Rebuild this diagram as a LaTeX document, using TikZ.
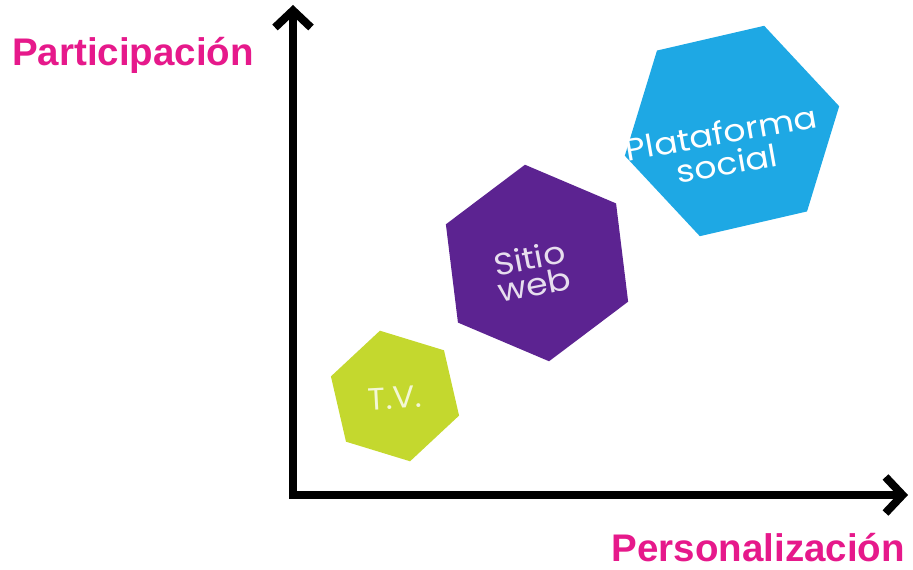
\documentclass[tikz,border=0pt]{standalone}
\usepackage{fontspec}
\setmainfont{Liberation Sans}
\newfontfamily\hexfont{Poppins}
\usetikzlibrary{arrows.meta}
\definecolor{magentalbl}{HTML}{E6198B}
\definecolor{limehex}{HTML}{C4D82E}
\definecolor{purplehex}{HTML}{5C2391}
\definecolor{bluehex}{HTML}{1EA8E4}
\begin{document}
\begin{tikzpicture}[x=1pt,y=1pt,
  axis/.style={line width=8pt, line join=miter,
    {Straight Barb[length=17pt,width=36pt]}-{Straight Barb[length=17pt,width=36pt]}},
  axislabel/.style={text=magentalbl, font=\fontsize{38.5}{40}\selectfont\bfseries, inner sep=0pt},
  hextext/.style={font=\hexfont\fontsize{31}{26}\selectfont, align=center, inner sep=0pt}]
\useasboundingbox (0,0) rectangle (913,570);
% axes
\coordinate (O) at (293,75);
\coordinate (Y) at (293,565);
\coordinate (X) at (908,75);
\draw[axis] (Y) -- (O) -- (X);
\node[axislabel, anchor=west] (ylab) at (12,515) {Participación};
\node[axislabel, anchor=east] (xlab) at (905,22) {Personalización};
% hexagon centres
\coordinate (ctv) at (395,174);
\coordinate (cweb) at (537,307);
\coordinate (csoc) at (732,439);
\fill[limehex] (ctv) +(43:67) -- +(103:67) -- +(163:67) -- +(223:67) -- +(283:67) -- +(343:67) -- cycle;
\fill[purplehex] (cweb) +(37:99) -- +(97:99) -- +(157:99) -- +(217:99) -- +(277:99) -- +(337:99) -- cycle;
\fill[bluehex] (csoc) +(13:110) -- +(73:110) -- +(133:110) -- +(193:110) -- +(253:110) -- +(313:110) -- cycle;
\node[hextext, text=white!80!limehex, rotate=3, xscale=1.05] (tv) at (395,172) {T.V.};
\node[hextext, text=white!85!purplehex, rotate=11, xscale=1.12] (web) at (532,299) {Sitio\\[1pt]web};
\node[hextext, text=white, rotate=10, xscale=1.12] (soc) at (724,422) {Plataforma\\[5pt]social};
\end{tikzpicture}
\end{document}
